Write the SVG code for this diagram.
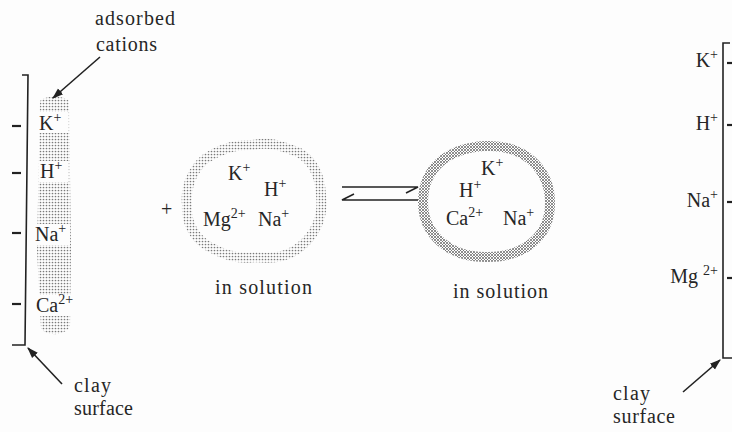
<svg xmlns="http://www.w3.org/2000/svg" width="732" height="432" viewBox="0 0 732 432">
<style>
text{font-family:"Liberation Serif","Times New Roman",serif;fill:#262626;font-size:20px}
.sup{font-size:14px}
.ln{stroke:#222;fill:none;stroke-width:1.6}
.tick{stroke:#222;stroke-width:2.2}
</style>
<defs>
<pattern id="dots" width="3" height="3" patternUnits="userSpaceOnUse"><circle cx="1.5" cy="1.5" r="0.85" fill="#7a7a7a"/></pattern>
<pattern id="hatch" width="3" height="3" patternUnits="userSpaceOnUse"><path d="M0,0 L3,3 M3,0 L0,3" stroke="#6a6a6a" stroke-width="0.75"/></pattern>
<marker id="ah" viewBox="0 0 10 10" refX="9" refY="5" markerWidth="7" markerHeight="7" orient="auto"><path d="M0,1.5 L10,5 L0,8.5 Z" fill="#222"/></marker>
</defs>
<rect width="732" height="432" fill="#fdfdfd"/>

<g id="left-clay">
<path d="M40,101 C45,95 64,95 69,101 L71,250 L70,326 C66,336 46,337 41,328 L37,250 Z" fill="url(#dots)"/>
<rect x="39" y="112" width="29" height="21" fill="#fdfdfd"/>
<rect x="39" y="161" width="29" height="21" fill="#fdfdfd"/>
<rect x="36" y="224" width="34" height="21" fill="#fdfdfd"/>
<rect x="36" y="295" width="38" height="21" fill="#fdfdfd"/>
<path class="ln" d="M22,75 L28,75 L25,345 L12,345"/>
<line class="tick" x1="12" y1="126" x2="21" y2="126"/>
<line class="tick" x1="12" y1="173" x2="21" y2="173"/>
<line class="tick" x1="12" y1="233" x2="21" y2="233"/>
<line class="tick" x1="12" y1="304" x2="21" y2="304"/>
<text x="39" y="130">K<tspan class="sup" dy="-8">+</tspan></text>
<text x="40" y="178">H<tspan class="sup" dy="-8">+</tspan></text>
<text x="35" y="241">Na<tspan class="sup" dy="-8">+</tspan></text>
<text x="36" y="312">Ca<tspan class="sup" dy="-8">2+</tspan></text>
<text x="95" y="25" textLength="80" lengthAdjust="spacing">adsorbed</text>
<text x="96" y="51" textLength="61" lengthAdjust="spacing">cations</text>
<text x="74" y="392" textLength="37" lengthAdjust="spacing">clay</text>
<text x="74" y="415" textLength="59" lengthAdjust="spacing">surface</text>
</g>

<g id="plus"><text x="161" y="216" font-size="16">+</text></g>

<g id="solution-1">
<path d="M253,145 C272,141 283,147 298,152 C312,160 320,175 321,195 C324,218 314,236 300,247 C288,257 272,259 256,257 C240,260 222,254 208,246 C194,238 186,222 187,205 C185,188 192,170 205,159 C218,150 235,144 253,145 Z" fill="none" stroke="url(#dots)" stroke-width="10"/>
<text x="228" y="180">K<tspan class="sup" dy="-8">+</tspan></text>
<text x="264" y="196">H<tspan class="sup" dy="-8">+</tspan></text>
<text x="203" y="226">Mg<tspan class="sup" dy="-8">2+</tspan></text>
<text x="258" y="226">Na<tspan class="sup" dy="-8">+</tspan></text>
<text x="215" y="294" textLength="97" lengthAdjust="spacing">in solution</text>
</g>

<g id="solution-2">
<path d="M485,146 C525,144 550,170 550,203 C550,238 522,258 485,257 C450,257 423,235 423,202 C423,168 448,148 485,146 Z" fill="none" stroke="url(#hatch)" stroke-width="10"/>
<text x="481" y="175">K<tspan class="sup" dy="-8">+</tspan></text>
<text x="459" y="197">H<tspan class="sup" dy="-8">+</tspan></text>
<text x="446" y="225">Ca<tspan class="sup" dy="-8">2+</tspan></text>
<text x="503" y="225">Na<tspan class="sup" dy="-8">+</tspan></text>
<text x="453" y="298" textLength="95" lengthAdjust="spacing">in solution</text>
</g>

<g id="right-clay">
<path class="ln" d="M730,43 L723,43 L723,358 L732,358"/>
<line class="tick" x1="727" y1="63" x2="732" y2="63"/>
<line class="tick" x1="727" y1="125" x2="732" y2="125"/>
<line class="tick" x1="727" y1="202" x2="732" y2="202"/>
<line class="tick" x1="727" y1="278" x2="732" y2="278"/>
<text x="718" y="67" text-anchor="end">K<tspan class="sup" dy="-8">+</tspan></text>
<text x="718" y="130" text-anchor="end">H<tspan class="sup" dy="-8">+</tspan></text>
<text x="718" y="207" text-anchor="end">Na<tspan class="sup" dy="-8">+</tspan></text>
<text x="718" y="283" text-anchor="end">Mg <tspan class="sup" dy="-8">2+</tspan></text>
<text x="613" y="400" textLength="37" lengthAdjust="spacing">clay</text>
<text x="613" y="423" textLength="62" lengthAdjust="spacing">surface</text>
</g>

<g id="connectors">
<line class="ln" x1="100" y1="57" x2="53" y2="98" marker-end="url(#ah)"/>
<line class="ln" x1="62" y1="384" x2="28" y2="348" marker-end="url(#ah)"/>
<line class="ln" x1="683" y1="392" x2="720" y2="360" marker-end="url(#ah)"/>
<path class="ln" stroke-width="1.3" d="M342,187 L418,187 L406,193 M418,200 L342,200 L354,194"/>
</g>
</svg>
